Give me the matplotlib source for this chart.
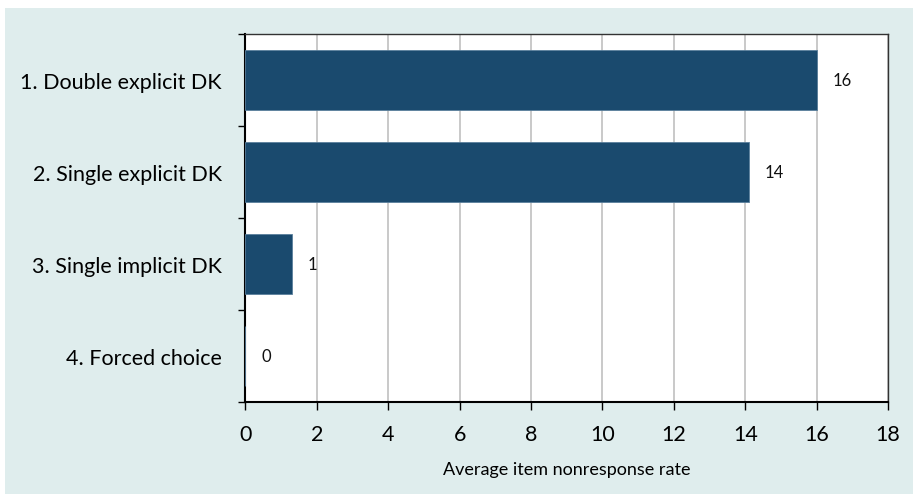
import numpy as np
import matplotlib.pyplot as plt
from matplotlib.patches import Rectangle

plt.rcParams['font.family'] = ['Lato', 'DejaVu Sans']

# data
categories = ['1. Double explicit DK', '2. Single explicit DK',
              '3. Single implicit DK', '4. Forced choice']
values = [16.0, 14.1, 1.3, 0.0]
labels = ['16', '14', '1', '0']

fig = plt.figure(figsize=(9.19, 5.02), dpi=100)
fig.patch.set_facecolor('white')
# light panel behind the chart
fig.patches.append(Rectangle((5 / 919, 1 - 495 / 502), 908 / 919, 486 / 502,
                             transform=fig.transFigure, facecolor='#dfeded',
                             edgecolor='none', zorder=-10))

ax = fig.add_axes([0.2671, 0.1972, 0.6992, 0.7331])
ax.set_zorder(1)
ax.set_facecolor('white')

y = np.arange(len(categories))
ax.barh(y, values, height=0.65, color='#1a4a6e', edgecolor='#5a7f9c',
        linewidth=0.6, zorder=3)
for yi, v, t in zip(y, values, labels):
    ax.text(v + 0.45, yi, t, va='center', ha='left', fontsize=12, color='#111111')

ax.set_xlim(0, 18)
ax.set_ylim(3.5, -0.5)
ax.set_xticks(np.arange(0, 19, 2))
ax.set_yticks(y)
ax.set_yticklabels(categories, fontsize=15.5)
ax.set_yticks(np.arange(-0.5, 4, 1), minor=True)
ax.tick_params(axis='y', which='major', length=0, pad=17)
ax.tick_params(axis='y', which='minor', length=5, width=1, direction='out')
ax.tick_params(axis='x', length=6, width=1, direction='out', labelsize=15.5, pad=10)
ax.grid(axis='x', color='#c0c0c0', linewidth=1.2, zorder=0)
ax.set_axisbelow(True)

for s in ['left', 'bottom']:
    ax.spines[s].set_linewidth(1.5)
    ax.spines[s].set_color('black')
for s in ['top', 'right']:
    ax.spines[s].set_linewidth(1.0)
    ax.spines[s].set_color('#333333')

ax.set_xlabel('Average item nonresponse rate', fontsize=13, labelpad=12)

fig.savefig('out.png', dpi=100)
